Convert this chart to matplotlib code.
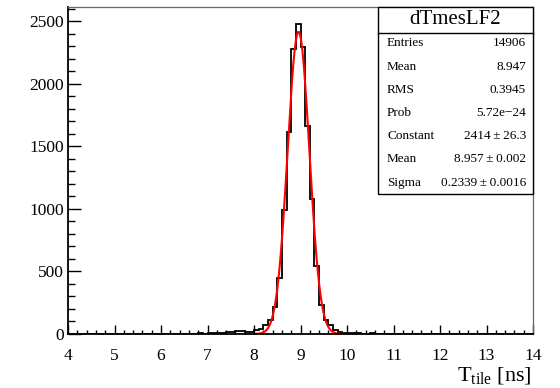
import numpy as np
import matplotlib
matplotlib.use("Agg")
import matplotlib.pyplot as plt
from matplotlib.patches import Rectangle
from matplotlib.ticker import MultipleLocator

plt.rcParams['font.family'] = ['Liberation Serif', 'DejaVu Serif']
plt.rcParams['mathtext.fontset'] = 'custom'
plt.rcParams['mathtext.rm'] = 'Liberation Serif'

# histogram: 100 bins of 0.1 ns between 4 and 14
bin_lo = 4.0
bin_hi = 14.0
counts = [0, 1, 0, 0, 1, 0, 0, 1, 0, 1,
          0, 1, 1, 0, 2, 1, 0, 1, 2, 1,
          1, 2, 1, 2, 3, 2, 3, 2, 4, 3,
          5, 8, 6, 10, 12, 15, 22, 25, 14, 18,
          28, 41, 73, 113, 212, 444, 988, 1610, 2276, 2476,
          2290, 1660, 1082, 540, 228, 113, 68, 28, 14, 8,
          5, 4, 6, 3, 2, 4, 3, 2, 1, 2,
          1, 2, 1, 1, 0, 1, 1, 0, 1, 0,
          1, 0, 0, 1, 0, 0, 1, 0, 0, 0,
          0, 1, 0, 0, 0, 0, 1, 0, 0, 0]

# gaussian fit result shown in the stats box
fit_const = 2414.0
fit_mean = 8.957
fit_sigma = 0.2339
fit_range = (8.0, 10.0)

hist_name = "dTmesLF2"
stat_labels = ["Entries", "Mean", "RMS", "Prob", "Constant", "Mean", "Sigma"]
stat_values = ["14906", "8.947", "0.3945", "5.72e\u221224",
               "2414\u2009\u00b1\u200926.3", "8.957\u2009\u00b1\u20090.002",
               "0.2339\u2009\u00b1\u20090.0016"]

W, H = 560, 388
fig = plt.figure(figsize=(W / 100, H / 100), dpi=100)
ax = fig.add_axes([68 / W, 1 - 334 / H, 465 / W, 327 / H])

edges = np.linspace(bin_lo, bin_hi, len(counts) + 1)
ax.stairs(counts, edges, color='black', linewidth=1.3, baseline=0)

xf = np.linspace(fit_range[0], fit_range[1], 400)
yf = fit_const * np.exp(-0.5 * ((xf - fit_mean) / fit_sigma) ** 2)
ax.plot(xf, yf, color='red', linewidth=1.5)

ax.set_xlim(bin_lo, bin_hi)
ax.set_ylim(0, 2612)

ax.xaxis.set_major_locator(MultipleLocator(1))
ax.xaxis.set_minor_locator(MultipleLocator(0.2))
ax.yaxis.set_major_locator(MultipleLocator(500))
ax.yaxis.set_minor_locator(MultipleLocator(100))
ax.tick_params(axis='both', which='both', direction='in', labelsize=12.5, width=1.0)
ax.tick_params(axis='x', which='major', length=6.5, pad=10)
ax.tick_params(axis='x', which='minor', length=3.2)
ax.tick_params(axis='y', which='major', length=9.4, pad=3)
ax.tick_params(axis='y', which='minor', length=5)

for s in ['left', 'bottom']:
    ax.spines[s].set_linewidth(1.3)
    ax.spines[s].set_color('black')
for s in ['top', 'right']:
    ax.spines[s].set_linewidth(0.9)
    ax.spines[s].set_color('#666666')

fig.text(532 / W, 1 - 386 / H, r'$\mathrm{T_{tile}}$ [ns]', ha='right', va='bottom', fontsize=16)

# stats box
bx0, bx1, by0, by1 = 378, 533, 7, 194
fig.patches.append(Rectangle((bx0 / W, 1 - by1 / H), (bx1 - bx0) / W, (by1 - by0) / H,
                             transform=fig.transFigure, facecolor='white',
                             edgecolor='black', linewidth=1.0, zorder=5))
fig.lines.append(plt.Line2D([bx0 / W, bx1 / W], [1 - 33 / H, 1 - 33 / H],
                            transform=fig.transFigure, color='black', linewidth=1.0, zorder=6))
fig.text((bx0 + bx1) / 2 / W, 1 - 20 / H, hist_name, ha='center', va='center', fontsize=15, zorder=7)
row_y = [43, 67, 90, 113, 136, 159, 183]
for lab, val, ry in zip(stat_labels, stat_values, row_y):
    fig.text(387 / W, 1 - ry / H, lab, ha='left', va='center', fontsize=9.5, zorder=7)
    fig.text(526 / W, 1 - ry / H, val, ha='right', va='center', fontsize=9.5, zorder=7)

fig.savefig('out.png', dpi=100)
